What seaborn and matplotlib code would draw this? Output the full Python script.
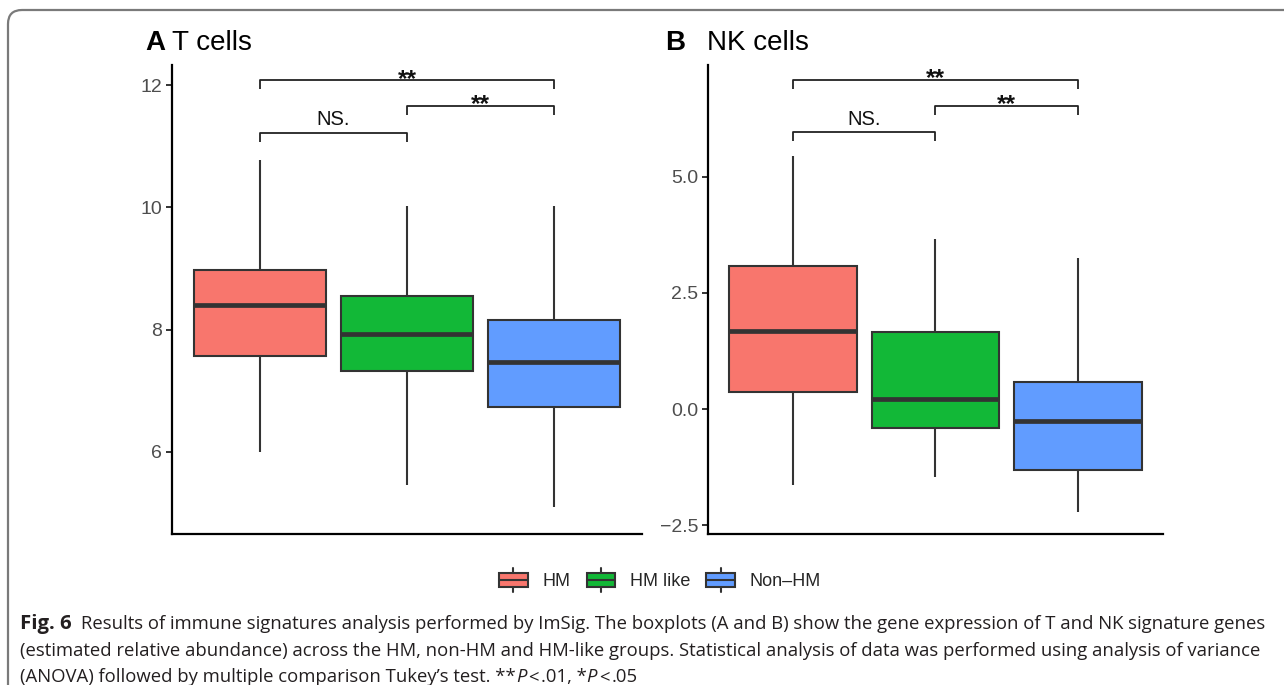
import numpy as np
import pandas as pd
import matplotlib
matplotlib.use('Agg')
import matplotlib.pyplot as plt
import seaborn as sns
from matplotlib.patches import Rectangle, FancyBboxPatch, Patch
from matplotlib.lines import Line2D
from matplotlib.legend_handler import HandlerBase

# groups and colours (ggplot defaults)
groups = ['HM', 'HM like', 'Non-HM']
colors = ['#F8766D', '#12B837', '#619CFF']

# five-number summaries: min, Q1, median, Q3, max
t_hm = [6.00, 7.56, 8.41, 8.98, 10.77]
t_hmlike = [5.46, 7.33, 7.93, 8.55, 10.03]
t_nonhm = [5.09, 6.74, 7.47, 8.15, 10.03]

nk_hm = [-1.63, 0.36, 1.68, 3.08, 5.45]
nk_hmlike = [-1.47, -0.41, 0.22, 1.67, 3.66]
nk_nonhm = [-2.22, -1.31, -0.25, 0.59, 3.25]

# significance brackets: (from group, to group, label)
comparisons = [(0, 2, '**'), (1, 2, '**'), (0, 1, 'NS.')]
t_bracket_y = [12.08, 11.66, 11.22]
nk_bracket_y = [7.09, 6.53, 5.97]

t_ticks = [6, 8, 10, 12]
t_ticklabels = ['6', '8', '10', '12']
nk_ticks = [-2.5, 0.0, 2.5, 5.0]
nk_ticklabels = ['\u22122.5', '0.0', '2.5', '5.0']

caption_1 = ('Results of immune signatures analysis performed by ImSig. The boxplots (A and B) '
             'show the gene expression of T and NK signature genes')
caption_2 = ('(estimated relative abundance) across the HM, non-HM and HM-like groups. '
             'Statistical analysis of data was performed using analysis of variance')
caption_3 = '(ANOVA) followed by multiple comparison Tukey\u2019s test. **'

sns.set_theme(style='ticks')
plt.rcParams['font.family'] = ['Liberation Sans', 'DejaVu Sans']
CAP_FONT = ['Open Sans', 'DejaVu Sans']

W, H = 1284, 685
fig = plt.figure(figsize=(W / 100, H / 100), dpi=100)
fig.patch.set_facecolor('white')


def to_df(*cols):
    rows = []
    for g, vals in zip(groups, cols):
        for v in vals:
            rows.append({'group': g, 'value': v})
    return pd.DataFrame(rows)


def panel(ax, df, ylim, ticks, ticklabels, bracket_y, tip):
    sns.boxplot(data=df, x='group', y='value', hue='group', order=groups,
                hue_order=groups, palette=colors, saturation=1, width=0.9,
                whis=(0, 100), linewidth=1.5, linecolor='#333333',
                showcaps=False, showfliers=False,
                medianprops=dict(linewidth=3.4, color='#333333'),
                legend=False, ax=ax)
    ax.set_xlim(-0.6, 2.6)
    ax.set_ylim(*ylim)
    ax.set_yticks(ticks)
    ax.set_yticklabels(ticklabels)
    ax.set_xticks([])
    ax.set_xlabel('')
    ax.set_ylabel('')
    for s in ['top', 'right']:
        ax.spines[s].set_visible(False)
    for s in ['left', 'bottom']:
        ax.spines[s].set_linewidth(1.6)
        ax.spines[s].set_color('black')
    ax.tick_params(axis='y', length=4, width=1.4, color='#333333',
                   labelsize=14, labelcolor='#4D4D4D', pad=3)
    # brackets
    for (i, j, lab), y in zip(comparisons, bracket_y):
        ax.plot([i, i, j, j], [y - tip, y, y, y - tip], color='#222222',
                lw=1.3, clip_on=False, solid_capstyle='butt')
        if lab == 'NS.':
            ax.annotate(lab, ((i + j) / 2, y), xytext=(0, 5.3), textcoords='offset points',
                        ha='center', va='baseline', fontsize=14.5, color='#111111')
        else:
            ax.annotate(lab, ((i + j) / 2, y), xytext=(0, -3.8), textcoords='offset points',
                        ha='center', va='baseline', fontsize=17.5, fontweight='bold',
                        color='#111111')


ax_a = fig.add_axes([172 / W, 1 - 534 / H, (642 - 172) / W, (534 - 65) / H])
ax_b = fig.add_axes([708 / W, 1 - 534 / H, (1163 - 708) / W, (534 - 65) / H])

panel(ax_a, to_df(t_hm, t_hmlike, t_nonhm), (4.655, 12.33), t_ticks, t_ticklabels,
      t_bracket_y, 0.15)
panel(ax_b, to_df(nk_hm, nk_hmlike, nk_nonhm), (-2.69, 7.41), nk_ticks, nk_ticklabels,
      nk_bracket_y, 0.19)

# panel titles
fig.text(145 / W, 1 - 50 / H, 'A', fontsize=20, fontweight='bold', color='black')
fig.text(172 / W, 1 - 50 / H, 'T cells', fontsize=20, color='black')
fig.text(665 / W, 1 - 50 / H, 'B', fontsize=20, fontweight='bold', color='black')
fig.text(707 / W, 1 - 50 / H, 'NK cells', fontsize=20, color='black')


# legend with box-shaped keys
class BoxKey(HandlerBase):
    def create_artists(self, legend, orig_handle, xdescent, ydescent, width, height,
                       fontsize, trans):
        x0, y0 = -xdescent, -ydescent
        fc = orig_handle.get_facecolor()
        lo, hi = 0.23, 0.77
        box = Rectangle((x0, y0 + lo * height), width, (hi - lo) * height, facecolor=fc,
                        edgecolor='#333333', lw=1.5, transform=trans)
        med = Line2D([x0, x0 + width], [y0 + 0.5 * height] * 2, color='#333333', lw=1.5,
                     transform=trans)
        w1 = Line2D([x0 + width / 2] * 2, [y0, y0 + lo * height], color='#333333', lw=1.5,
                    transform=trans)
        w2 = Line2D([x0 + width / 2] * 2, [y0 + hi * height, y0 + height], color='#333333',
                    lw=1.5, transform=trans)
        return [box, med, w1, w2]


handles = [Patch(facecolor=c, label=g) for c, g in zip(colors, groups)]
fig.legend(handles=handles, labels=['HM', 'HM like', 'Non\u2013HM'], loc='center',
           bbox_to_anchor=(660 / W, 1 - 580 / H), ncol=3, frameon=False, fontsize=13,
           handlelength=1.6, handleheight=1.75, handletextpad=0.8, columnspacing=0.9,
           handler_map={Patch: BoxKey()})

# rounded frame round the figure (only top and left edges fall inside)
frame = FancyBboxPatch((8, -40), W + 40, H - 10 + 40,
                       boxstyle='round,pad=0,rounding_size=14',
                       transform=None, facecolor='none', edgecolor='#7a7a7a', lw=1.6)
fig.patches.append(frame)

# caption
fig.canvas.draw()
renderer = fig.canvas.get_renderer()


def write_line(x, y, pieces, size):
    arts = []
    for text, weight, style, gap, scale in pieces:
        t = fig.text(x / W, 1 - y / H, text, fontsize=size * scale, fontweight=weight,
                     fontstyle=style, family=CAP_FONT, color='#231F20', va='baseline')
        arts.append(t)
        x += t.get_window_extent(renderer).width + gap
    return arts, x


X0, X1 = 20, 1262
line1 = [('Fig. 6', 'bold', 'normal', 9, 1.1), (caption_1, 'normal', 'normal', 0, 1.0)]
probe, x_end = write_line(X0, 629, line1, 12)
size = 12 * (X1 - X0 - 9) / (x_end - X0 - 9)
for p in probe:
    p.remove()

write_line(X0, 629, line1, size)
write_line(X0, 656, [(caption_2, 'normal', 'normal', 0, 1.0)], size)
write_line(X0, 682, [(caption_3, 'normal', 'normal', 0, 1.0),
                     ('P', 'normal', 'italic', 2, 1.0),
                     ('<', 'normal', 'normal', 2, 1.0),
                     ('.01, *', 'normal', 'normal', 0, 1.0),
                     ('P', 'normal', 'italic', 2, 1.0),
                     ('<', 'normal', 'normal', 2, 1.0),
                     ('.05', 'normal', 'normal', 0, 1.0)], size)

fig.savefig('out.png', dpi=100, facecolor='white')
